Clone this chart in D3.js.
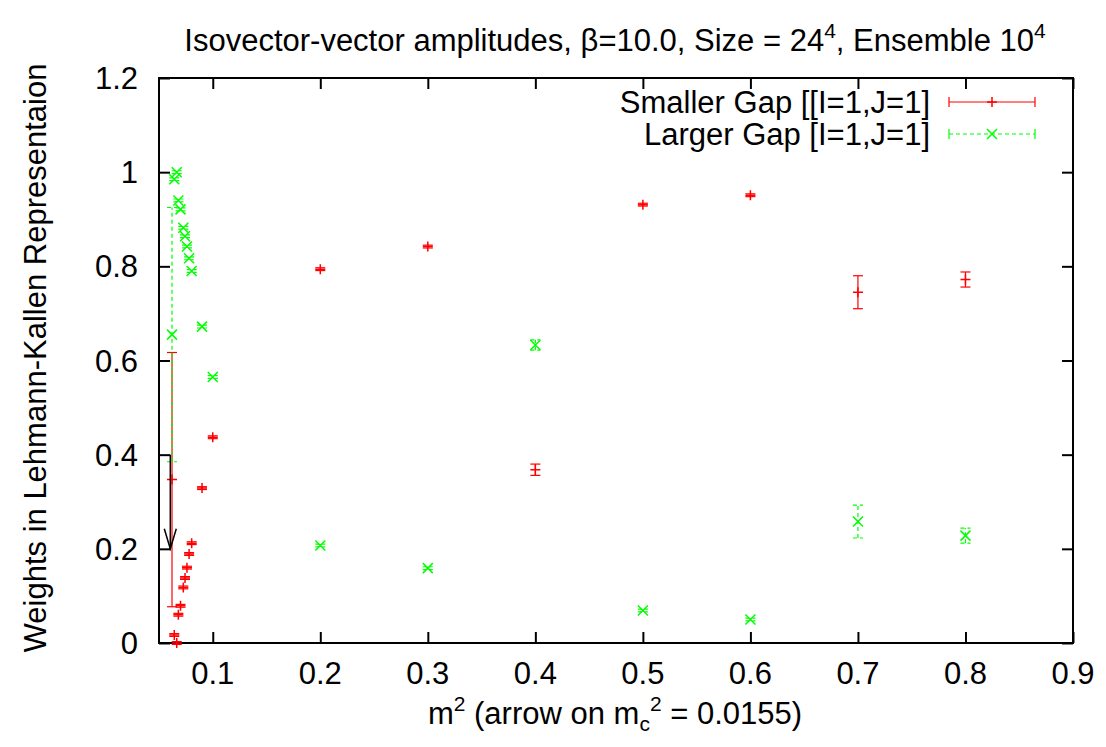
<!DOCTYPE html>
<html>
<head>
<meta charset="utf-8">
<script src="https://cdn.jsdelivr.net/npm/d3@7"></script>
<style>
  body { margin: 0; background: #fff; }
  svg text { font-family: "Liberation Sans", Arial, Helvetica, sans-serif; fill: #000; }
</style>
</head>
<body>
<div id="chart"></div>
<script>
// values
const m2       = [0.0621, 0.0642, 0.0665, 0.0680, 0.0700, 0.0726, 0.0742, 0.0760, 0.0780, 0.0804, 0.090, 0.100, 0.2, 0.3, 0.4, 0.5, 0.6, 0.7, 0.8]
const smallW   = [0.347, 0.017, 0.000, 0.060, 0.079, 0.118, 0.138, 0.160, 0.189, 0.212, 0.329, 0.437, 0.794, 0.842, 0.368, 0.931, 0.951, 0.745, 0.772]
const smallErr = [0.270, 0.003, 0.003, 0.003, 0.003, 0.003, 0.003, 0.003, 0.003, 0.003, 0.003, 0.003, 0.003, 0.003, 0.012, 0.003, 0.003, 0.035, 0.016]
const largeW   = [0.655, 0.985, 1.000, 0.940, 0.921, 0.882, 0.864, 0.842, 0.817, 0.790, 0.672, 0.565, 0.207, 0.159, 0.633, 0.069, 0.050, 0.258, 0.228]
const largeErr = [0.270, 0.003, 0.003, 0.003, 0.003, 0.003, 0.003, 0.003, 0.003, 0.003, 0.003, 0.003, 0.003, 0.003, 0.011, 0.003, 0.003, 0.035, 0.016]

const xTicks = [0.1, 0.2, 0.3, 0.4, 0.5, 0.6, 0.7, 0.8, 0.9]
const yTicks = [0, 0.2, 0.4, 0.6, 0.8, 1, 1.2]
const xDomain = [0.05, 0.9]
const yDomain = [0, 1.2]
const arrowFrom = [0.0605, 0.4]
const arrowTo = [0.0605, 0.2]

const width = 1106, height = 747
const margin = {top: 78, right: 33, bottom: 104, left: 159}
const red = "#ff0000", green = "#00ff00"
const fs = "31px", fsSup = "21px"

const svg = d3.select("#chart").append("svg")
    .attr("width", width)
    .attr("height", height)

const x = d3.scaleLinear().domain(xDomain).range([margin.left, width - margin.right])
const y = d3.scaleLinear().domain(yDomain).range([height - margin.bottom, margin.top])

// ticks, mirrored on all four sides, pointing inwards
const tickLen = 11
svg.append("g")
    .attr("transform", `translate(0,${y(0)})`)
    .call(d3.axisBottom(x).tickValues(xTicks).tickSize(-tickLen).tickFormat(""))
    .call(g => g.select(".domain").remove())
svg.append("g")
    .attr("transform", `translate(0,${y(1.2)})`)
    .call(d3.axisTop(x).tickValues(xTicks).tickSize(-tickLen).tickFormat(""))
    .call(g => g.select(".domain").remove())
svg.append("g")
    .attr("transform", `translate(${x(0.05)},0)`)
    .call(d3.axisLeft(y).tickValues(yTicks).tickSize(-tickLen).tickFormat(""))
    .call(g => g.select(".domain").remove())
svg.append("g")
    .attr("transform", `translate(${x(0.9)},0)`)
    .call(d3.axisRight(y).tickValues(yTicks).tickSize(-tickLen).tickFormat(""))
    .call(g => g.select(".domain").remove())
svg.selectAll(".tick line").attr("stroke", "#000").attr("stroke-width", 2)

// tick labels
svg.append("g").selectAll("text")
    .data(xTicks)
    .enter().append("text")
    .attr("x", d => x(d))
    .attr("y", y(0) + 41)
    .attr("text-anchor", "middle")
    .style("font-size", fs)
    .text(d => d3.format(".1f")(d))
svg.append("g").selectAll("text")
    .data(yTicks)
    .enter().append("text")
    .attr("x", x(0.05) - 21)
    .attr("y", d => y(d) + 11)
    .attr("text-anchor", "end")
    .style("font-size", fs)
    .text(d => d)

// frame
svg.append("rect")
    .attr("x", x(0.05))
    .attr("y", y(1.2))
    .attr("width", x(0.9) - x(0.05))
    .attr("height", y(0) - y(1.2))
    .attr("fill", "none")
    .attr("stroke", "#000")
    .attr("stroke-width", 2)

// title and axis labels
const title = svg.append("text")
    .attr("x", 615).attr("y", 51)
    .attr("text-anchor", "middle")
    .style("font-size", fs)
title.append("tspan").text("Isovector-vector amplitudes, β=10.0, Size = 24")
title.append("tspan").attr("dy", -13).style("font-size", fsSup).text("4")
title.append("tspan").attr("dy", 13).text(", Ensemble 10")
title.append("tspan").attr("dy", -13).style("font-size", fsSup).text("4")

const xlab = svg.append("text")
    .attr("x", 615).attr("y", 724)
    .attr("text-anchor", "middle")
    .style("font-size", fs)
xlab.append("tspan").text("m")
xlab.append("tspan").attr("dy", -13).style("font-size", fsSup).text("2")
xlab.append("tspan").attr("dy", 13).text(" (arrow on m")
xlab.append("tspan").attr("dy", 7).style("font-size", fsSup).text("c")
xlab.append("tspan").attr("dy", -20).style("font-size", fsSup).text("2")
xlab.append("tspan").attr("dy", 13).text(" = 0.0155)")

svg.append("text")
    .attr("transform", `translate(46,358) rotate(-90)`)
    .attr("text-anchor", "middle")
    .style("font-size", fs)
    .text("Weights in Lehmann-Kallen Representaion")

// error bars + points
const cap = 5, ps = 5
function drawSeries(vals, errs, color, dashed, shape) {
    const g = svg.append("g")
        .attr("stroke", color)
        .attr("stroke-width", 1.2)
        .attr("fill", "none")
    const dash = dashed ? "4,3" : null
    const pts = m2.map((d, i) => ({m: d, v: vals[i], e: errs[i]}))
    g.selectAll(".bar").data(pts).enter().append("line")
        .attr("x1", d => x(d.m)).attr("x2", d => x(d.m))
        .attr("y1", d => y(d.v - d.e)).attr("y2", d => y(d.v + d.e))
        .attr("stroke-dasharray", dash)
    g.selectAll(".capLo").data(pts).enter().append("line")
        .attr("x1", d => x(d.m) - cap).attr("x2", d => x(d.m) + cap)
        .attr("y1", d => y(d.v - d.e)).attr("y2", d => y(d.v - d.e))
        .attr("stroke-dasharray", dash)
    g.selectAll(".capHi").data(pts).enter().append("line")
        .attr("x1", d => x(d.m) - cap).attr("x2", d => x(d.m) + cap)
        .attr("y1", d => y(d.v + d.e)).attr("y2", d => y(d.v + d.e))
        .attr("stroke-dasharray", dash)
    g.selectAll(".pt").data(pts).enter().append("path")
        .attr("stroke-width", 1.5)
        .attr("d", d => shape(x(d.m), y(d.v)))
}
const plus = (cx, cy) => `M${cx - ps},${cy}H${cx + ps}M${cx},${cy - ps}V${cy + ps}`
const cross = (cx, cy) => `M${cx - ps},${cy - ps}L${cx + ps},${cy + ps}M${cx - ps},${cy + ps}L${cx + ps},${cy - ps}`

drawSeries(smallW, smallErr, red, false, plus)
drawSeries(largeW, largeErr, green, true, cross)

// arrow at m_c^2
svg.append("line")
    .attr("x1", x(arrowFrom[0])).attr("y1", y(arrowFrom[1]))
    .attr("x2", x(arrowTo[0])).attr("y2", y(arrowTo[1]))
    .attr("stroke", "#000").attr("stroke-width", 1.5)
svg.append("path")
    .attr("d", `M${x(arrowTo[0]) - 6},${y(arrowTo[1]) - 20}L${x(arrowTo[0])},${y(arrowTo[1])}L${x(arrowTo[0]) + 6},${y(arrowTo[1]) - 20}`)
    .attr("fill", "none").attr("stroke", "#000").attr("stroke-width", 1.5)

// legend
const legend = [
    {label: "Smaller Gap [[I=1,J=1]", color: red, dashed: false, shape: plus},
    {label: "Larger Gap [I=1,J=1]", color: green, dashed: true, shape: cross}
]
const lx0 = 949, lx1 = 1035
legend.forEach((l, i) => {
    const ly = 102 + i * 32
    svg.append("text")
        .attr("x", 930).attr("y", ly + 11)
        .attr("text-anchor", "end")
        .style("font-size", fs)
        .text(l.label)
    const g = svg.append("g").attr("stroke", l.color).attr("stroke-width", 1.2).attr("fill", "none")
    g.append("line").attr("x1", lx0).attr("x2", lx1).attr("y1", ly).attr("y2", ly)
        .attr("stroke-dasharray", l.dashed ? "4,3" : null)
    ;[lx0, lx1].forEach(px => g.append("line")
        .attr("x1", px).attr("x2", px).attr("y1", ly - cap).attr("y2", ly + cap))
    g.append("path").attr("stroke-width", 1.5).attr("d", l.shape((lx0 + lx1) / 2, ly))
})
</script>
</body>
</html>
